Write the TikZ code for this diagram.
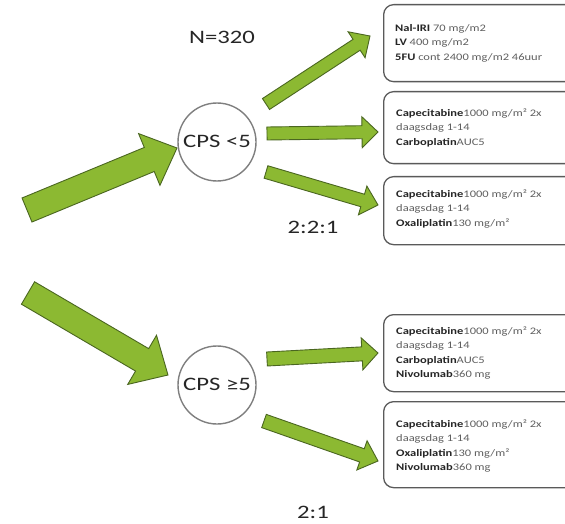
\documentclass[tikz,border=0pt]{standalone}
\usepackage{fontspec}
\setmainfont{Carlito}
\usepackage{graphicx}
\definecolor{arrowgreen}{HTML}{8CB932}
\definecolor{arrowedge}{HTML}{4A6620}
\definecolor{circgray}{HTML}{7F7F7F}
\definecolor{boxgray}{HTML}{5A5A5A}
\definecolor{textgray}{HTML}{262626}
\definecolor{regtext}{HTML}{5F5F5F}
\newcommand{\bt}[1]{{\bfseries\color{textgray}#1}}
\newcommand{\greenarr}[7]{%
  \pgfmathsetmacro{\arrang}{atan2(-((#4)-(#2)),(#3)-(#1))}%
  \pgfmathsetmacro{\arrlen}{veclen((#3)-(#1),(#4)-(#2))}%
  \pgfmathsetmacro{\arrbase}{\arrlen-(#7)}%
  \draw[greenarrow, shift={(#1,#2)}, rotate=\arrang]
    (0,-#5) -- (\arrbase,-#5) -- (\arrbase,-#6) -- (\arrlen,0)
    -- (\arrbase,#6) -- (\arrbase,#5) -- (0,#5) -- cycle;}
\tikzset{
  greenarrow/.style={fill=arrowgreen, draw=arrowedge, line width=0.9pt, line join=miter},
  cpscircle/.style={circle, draw=circgray, line width=1.4pt, minimum size=78pt, inner sep=0pt, fill=white},
  drugbox/.style={draw=boxgray, line width=1.3pt, rounded corners=10pt, fill=white, anchor=north west, minimum width=210pt, inner sep=0pt},
  bigtext/.style={text=textgray, inner sep=0pt},
  boxtext/.style={anchor=west, inner sep=0pt, text=regtext}
}
\newcommand{\bigtxt}[1]{\scalebox{1.3}[1]{\fontsize{19}{19}\selectfont #1}}
\newcommand{\boxlines}[1]{\scalebox{1.25}[1]{\fontsize{10}{14.5}\selectfont\begin{tabular}{@{}l@{}}#1\end{tabular}}}
\begin{document}
\begin{tikzpicture}[x=1pt,y=-1pt]
\useasboundingbox (0,0) rectangle (565,524);
\clip (0,0) rectangle (565,524);
\fill[white] (0,0) rectangle (565,524);

% boxes
\node[drugbox, minimum height=77pt] (b1) at (383,4) {};
\node[drugbox, minimum height=72pt] (b2) at (383,91) {};
\node[drugbox, minimum height=68pt] (b3) at (383,176) {};
\node[drugbox, minimum height=77pt] (b4) at (383,314) {};
\node[drugbox, minimum height=86pt] (b5) at (383,401) {};

\node[boxtext] (t1) at (395,43) {\boxlines{\bt{Nal-IRI} 70 mg/m2\\ \bt{LV}\ 400 mg/m2\\ \bt{5FU} cont 2400 mg/m2 46uur}};
\node[boxtext] (t2) at (396,128) {\boxlines{\bt{Capecitabine}1000 mg/m² 2x\\ daagsdag 1-14\\ \bt{Carboplatin}AUC5}};
\node[boxtext] (t3) at (396,209) {\boxlines{\bt{Capecitabine}1000 mg/m² 2x\\ daagsdag 1-14\\ \bt{Oxaliplatin}130 mg/m²}};
\node[boxtext] (t4) at (396,353) {\boxlines{\bt{Capecitabine}1000 mg/m² 2x\\ daagsdag 1-14\\ \bt{Carboplatin}AUC5\\ \bt{Nivolumab}360 mg}};
\node[boxtext] (t5) at (396,446) {\boxlines{\bt{Capecitabine}1000 mg/m² 2x\\ daagsdag 1-14\\ \bt{Oxaliplatin}130 mg/m²\\ \bt{Nivolumab}360 mg}};

% arrows
\greenarr{27}{210}{177}{148}{13}{28}{30}
\greenarr{28}{293}{168}{375}{13}{28.5}{30}
\greenarr{266}{104}{370}{36}{6.5}{15.5}{16}
\greenarr{267}{133.5}{378}{132}{6.5}{15.5}{16}
\greenarr{266}{172}{378}{205}{6.5}{15}{16}
\greenarr{267}{359}{378}{353}{7}{16}{16}
\greenarr{264}{421}{378}{461}{7}{15.5}{17}

% circles
\node[cpscircle] (c1) at (217,142) {};
\node[bigtext] (c1t) at (217,141) {\bigtxt{CPS <5}};
\node[cpscircle] (c2) at (217,385) {};
\node[bigtext] (c2t) at (217,384) {\bigtxt{CPS ≥5}};

% labels
\node[bigtext] (n) at (222,37) {\bigtxt{N=320}};
\node[bigtext] (r1) at (313,227) {\bigtxt{2:2:1}};
\node[bigtext] (r2) at (313,512) {\bigtxt{2:1}};
\end{tikzpicture}
\end{document}
